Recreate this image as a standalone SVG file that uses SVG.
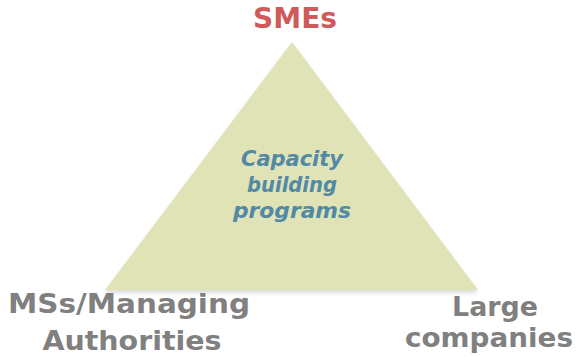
<svg xmlns="http://www.w3.org/2000/svg" width="580" height="357" viewBox="0 0 580 357">
<defs>
<style>
.lbl{font-family:"DejaVu Sans","Liberation Sans",sans-serif;font-weight:bold;text-anchor:middle}
.gray{fill:#808080;font-size:27px}
.red{fill:#d05a5a;font-size:28px}
.blue{fill:#5289a5;font-size:21px;font-style:italic}
</style>
<filter id="sh" x="-10%" y="-10%" width="120%" height="130%">
<feGaussianBlur in="SourceAlpha" stdDeviation="2"/>
<feOffset dy="3"/>
<feComponentTransfer><feFuncA type="linear" slope="0.15"/></feComponentTransfer>
<feMerge><feMergeNode/><feMergeNode in="SourceGraphic"/></feMerge>
</filter>
</defs>
<rect width="580" height="357" fill="#ffffff"/>
<g id="triangle">
<polygon points="292,42 105,290 478,290" fill="#dfe3b6" filter="url(#sh)"/>
<text class="lbl blue" x="292" y="166" textLength="102" lengthAdjust="spacingAndGlyphs">Capacity</text>
<text class="lbl blue" x="292" y="192" textLength="90" lengthAdjust="spacingAndGlyphs">building</text>
<text class="lbl blue" x="292" y="218" textLength="118" lengthAdjust="spacingAndGlyphs">programs</text>
</g>
<g id="smes">
<text class="lbl red" x="295" y="28" textLength="84" lengthAdjust="spacingAndGlyphs">SMEs</text>
</g>
<g id="msa">
<text class="lbl gray" x="129" y="313" textLength="242" lengthAdjust="spacingAndGlyphs">MSs/Managing</text>
<text class="lbl gray" x="132" y="350" textLength="179" lengthAdjust="spacingAndGlyphs">Authorities</text>
</g>
<g id="large">
<text class="lbl gray" x="495" y="316" textLength="86" lengthAdjust="spacingAndGlyphs">Large</text>
<text class="lbl gray" x="489" y="347" textLength="168" lengthAdjust="spacingAndGlyphs">companies</text>
</g>
<g id="connectors"></g>
</svg>
